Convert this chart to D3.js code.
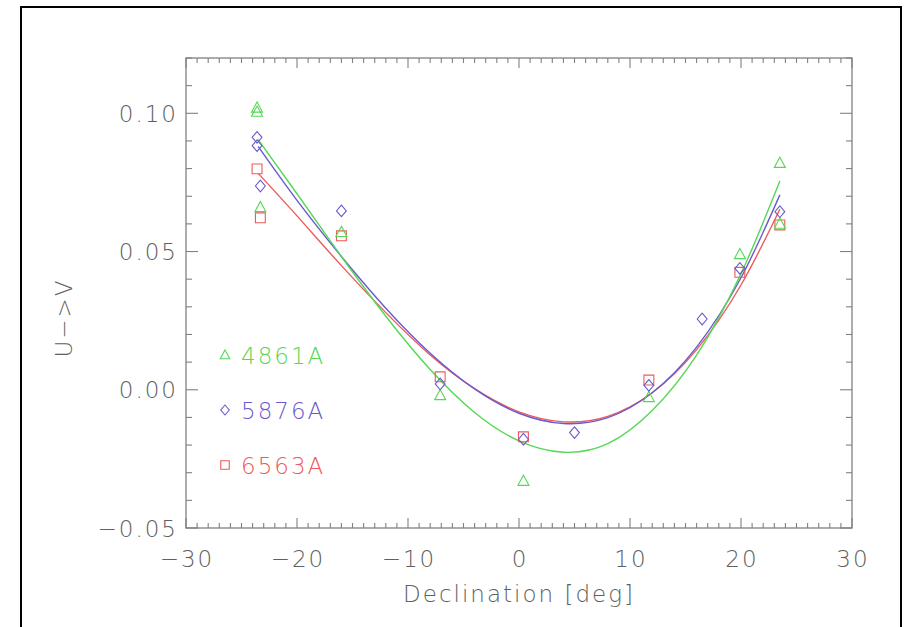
<!DOCTYPE html>
<html>
<head>
<meta charset="utf-8">
<script src="https://cdn.jsdelivr.net/npm/d3@7"></script>
<style>
  html, body { margin: 0; padding: 0; background: #fff; }
  svg { display: block; }
  text { font-family: "DejaVu Sans", "Liberation Sans", sans-serif; font-weight: 200; }
</style>
</head>
<body>
<svg id="chart" width="905" height="627"></svg>
<script>
// ---------- data ----------
const seriesNames = ["4861A", "5876A", "6563A"];

const greenDec = [-23.6, -23.6, -23.3, -16.0, -7.1, 0.4, 11.7, 19.9, 23.5, 23.5];
const greenVal = [0.102, 0.1005, 0.066, 0.057, -0.002, -0.033, -0.0027, 0.049, 0.082, 0.060];

const blueDec = [-23.6, -23.6, -23.3, -16.0, -7.1, 0.4, 5.0, 11.7, 16.5, 19.9, 23.5];
const blueVal = [0.0913, 0.0883, 0.0737, 0.0647, 0.0021, -0.0179, -0.0155, 0.0016, 0.0256, 0.0439, 0.0644];

const redDec = [-23.6, -23.3, -16.0, -7.1, 0.4, 11.7, 19.9, 23.5];
const redVal = [0.0799, 0.0622, 0.0557, 0.0047, -0.017, 0.0035, 0.0425, 0.0596];

// fitted curves
const fitDec   = [-23.5, -20, -16, -12, -8, -4, 0, 4, 8, 12, 16, 20, 23.5];
const fitGreen = [0.0905, 0.0709, 0.0482, 0.0266, 0.0073, -0.0082, -0.0185, -0.0226, -0.0195, -0.0075, 0.0125, 0.042, 0.0755];
const fitBlue  = [0.0880, 0.0685, 0.0482, 0.0295, 0.0132, 0.0003, -0.0085, -0.0122, -0.0101, -0.0011, 0.0154, 0.0405, 0.0705];
const fitRed   = [0.0783, 0.0629, 0.0449, 0.0279, 0.0126, 0.0004, -0.0080, -0.0116, -0.0096, -0.0011, 0.0145, 0.0379, 0.0653];

const xTickValues = [-30, -20, -10, 0, 10, 20, 30];
const xTickLabels = ["\u221230", "\u221220", "\u221210", "0", "10", "20", "30"];
const yTickValues = [-0.05, 0.00, 0.05, 0.10];
const yTickLabels = ["\u22120.05", "0.00", "0.05", "0.10"];
const xLabel = "Declination [deg]";
const yLabel = "U\u2212>V";

// ---------- styles ----------
const colors = ["#55d855", "#6a5acd", "#ee5a5a"];
const shapes = ["triangle", "diamond", "square"];
const axisColor = "#808080";
const textColor = "#606060";

const svg = d3.select("#chart");
const L = 186, R = 852, T = 58, B = 528;

const x = d3.scaleLinear().domain([-30, 30]).range([L, R]);
const y = d3.scaleLinear().domain([-0.05, 0.12]).range([B, T]);

// outer frame
svg.append("path")
  .attr("d", `M21,640 L21,7 L901,7 L901,640`)
  .attr("fill", "none").attr("stroke", "#000").attr("stroke-width", 2);

// axes box
svg.append("rect")
  .attr("x", L).attr("y", T).attr("width", R - L).attr("height", B - T)
  .attr("fill", "none").attr("stroke", axisColor).attr("stroke-width", 1.3);

// ticks
const xMinor = d3.range(-30, 31, 1);
const yMinor = d3.range(-5, 13, 1).map(v => v / 100);
const tg = svg.append("g").attr("stroke", axisColor).attr("stroke-width", 1.1);
xMinor.forEach(v => {
  const major = v % 10 === 0;
  const len = major ? 10 : 5;
  const px = x(v);
  tg.append("line").attr("x1", px).attr("x2", px).attr("y1", B).attr("y2", B - len);
  tg.append("line").attr("x1", px).attr("x2", px).attr("y1", T).attr("y2", T + len);
});
yMinor.forEach(v => {
  const major = Math.round(v * 100) % 5 === 0;
  const len = major ? 12 : 6;
  const py = y(v);
  tg.append("line").attr("x1", L).attr("x2", L + len).attr("y1", py).attr("y2", py);
  tg.append("line").attr("x1", R).attr("x2", R - len).attr("y1", py).attr("y2", py);
});

// tick labels
const fontSize = 23, ls = 2;
xTickValues.forEach((v, i) => {
  svg.append("text")
    .attr("x", x(v) + ls / 2).attr("y", 567)
    .attr("text-anchor", "middle")
    .attr("font-size", fontSize).attr("letter-spacing", ls)
    .attr("fill", textColor)
    .text(xTickLabels[i]);
});
yTickValues.forEach((v, i) => {
  svg.append("text")
    .attr("x", 178).attr("y", y(v) + 8.5)
    .attr("text-anchor", "end")
    .attr("font-size", fontSize).attr("letter-spacing", ls)
    .attr("fill", textColor)
    .text(yTickLabels[i]);
});

// axis titles
svg.append("text")
  .attr("x", (L + R) / 2).attr("y", 602)
  .attr("text-anchor", "middle")
  .attr("font-size", fontSize).attr("letter-spacing", ls)
  .attr("fill", textColor)
  .text(xLabel);
svg.append("text")
  .attr("transform", `translate(72, ${(T + B) / 2 + 25}) rotate(-90)`)
  .attr("text-anchor", "middle")
  .attr("font-size", fontSize).attr("letter-spacing", ls)
  .attr("fill", textColor)
  .text(yLabel);

// marker paths
function markerPath(shape, s) {
  if (shape === "triangle") return `M0,${-s} L${s * 0.95},${s * 0.75} L${-s * 0.95},${s * 0.75} Z`;
  if (shape === "diamond") return `M0,${-s} L${s * 0.85},0 L0,${s} L${-s * 0.85},0 Z`;
  return `M${-s * 0.85},${-s * 0.85} L${s * 0.85},${-s * 0.85} L${s * 0.85},${s * 0.85} L${-s * 0.85},${s * 0.85} Z`;
}

const pointSets = [
  greenDec.map((d, i) => [d, greenVal[i]]),
  blueDec.map((d, i) => [d, blueVal[i]]),
  redDec.map((d, i) => [d, redVal[i]])
];
const fitSets = [
  fitDec.map((d, i) => [d, fitGreen[i]]),
  fitDec.map((d, i) => [d, fitBlue[i]]),
  fitDec.map((d, i) => [d, fitRed[i]])
];

const line = d3.line().x(d => x(d[0])).y(d => y(d[1])).curve(d3.curveNatural);

[2, 1, 0].forEach(k => {
  svg.append("path")
    .datum(fitSets[k])
    .attr("d", line)
    .attr("fill", "none")
    .attr("stroke", colors[k])
    .attr("stroke-width", 1.4);
});

[2, 0, 1].forEach(k => {
  svg.append("g").selectAll("path")
    .data(pointSets[k])
    .join("path")
    .attr("transform", d => `translate(${x(d[0])},${y(d[1])})`)
    .attr("d", markerPath(shapes[k], 5.8))
    .attr("fill", "none")
    .attr("stroke", colors[k])
    .attr("stroke-width", 1.1);
});

// legend
const legendY = [355, 410, 465];
seriesNames.forEach((name, k) => {
  svg.append("path")
    .attr("transform", `translate(225,${legendY[k]})`)
    .attr("d", markerPath(shapes[k], 5))
    .attr("fill", "none")
    .attr("stroke", colors[k])
    .attr("stroke-width", 1.1);
  svg.append("text")
    .attr("x", 241).attr("y", legendY[k] + 8.5)
    .attr("font-size", fontSize).attr("letter-spacing", ls)
    .attr("fill", colors[k])
    .text(name);
});
</script>
</body>
</html>
